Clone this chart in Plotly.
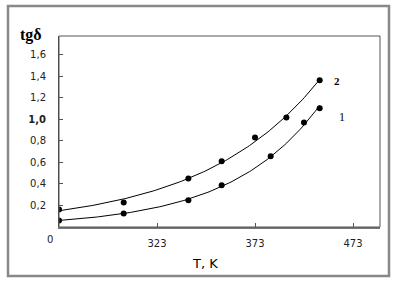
import numpy as np
import plotly.graph_objects as go

# Data
t1 = [273, 306, 339, 356, 381, 398, 406]
tg1 = [0.061, 0.126, 0.247, 0.386, 0.655, 0.97, 1.10]
t2 = [273, 306, 339, 356, 373, 389, 406]
tg2 = [0.163, 0.228, 0.45, 0.61, 0.83, 1.015, 1.36]

x_tickvals = [323, 373, 423]
x_ticktext = ["323", "373", "473"]
y_tickvals = [0.2, 0.4, 0.6, 0.8, 1.0, 1.2, 1.4, 1.6]
y_ticktext = ["0,2", "0,4", "0,6", "0,8", "<b>1,0</b>", "1,2", "1,4", "1,6"]


def expfit(x, y):
    x = np.asarray(x, float)
    y = np.asarray(y, float)
    b, a = np.polyfit(x, np.log(y), 1)
    xs = np.linspace(x.min(), x.max(), 120)
    return xs, np.exp(a) * np.exp(b * xs)


fig = go.Figure()
for tx, ty in ((t1, tg1), (t2, tg2)):
    xs, ys = expfit(tx, ty)
    fig.add_trace(go.Scatter(x=xs, y=ys, mode="lines",
                             line=dict(color="black", width=1), hoverinfo="skip"))
    fig.add_trace(go.Scatter(x=tx, y=ty, mode="markers",
                             marker=dict(color="black", size=6)))

W, H = 397, 282
L, R, T, B = 59, 17, 36, 55
pw, ph = W - L - R, H - T - B

def px(xp):
    return (xp - L) / pw

def py(yp):
    return (H - B - yp) / ph

fig.update_layout(
    width=W, height=H,
    margin=dict(l=L, r=R, t=T, b=B),
    paper_bgcolor="white", plot_bgcolor="white",
    showlegend=False,
    font=dict(family="DejaVu Sans", size=10, color="black"),
    xaxis=dict(range=[273, 273 + pw * 50 / 98], tickvals=x_tickvals, ticktext=x_ticktext,
               ticks="inside", ticklen=4, tickcolor="#555", showgrid=False, zeroline=False,
               showline=True, linecolor="#777", linewidth=2, mirror=False,
               tickfont=dict(size=10, color="#222"), ticklabelstandoff=6),
    yaxis=dict(range=[0, (H - B - T) / 107.85], tickvals=y_tickvals, ticktext=y_ticktext,
               ticks="inside", ticklen=4, tickcolor="#555", showgrid=False, zeroline=False,
               showline=True, linecolor="#444", linewidth=1,
               tickfont=dict(size=10, color="#222"), ticklabelstandoff=10),
)

# plot-area box (top and right edges)
fig.add_shape(type="rect", xref="paper", yref="paper", x0=0, y0=0, x1=1, y1=1,
              line=dict(color="#555", width=1), layer="above")
# outer frame
fig.add_shape(type="rect", xref="paper", yref="paper",
              x0=px(8), x1=px(389), y0=py(276), y1=py(6),
              line=dict(color="#888", width=2.5))

def label(xp, yp, text, **font):
    f = dict(size=10, color="#222")
    f.update(font)
    fig.add_annotation(x=px(xp), y=py(yp), xref="paper", yref="paper", text=text,
                       xanchor="center", yanchor="middle", showarrow=False, font=f)

label(31, 35, "<b>tgδ</b>", family="Liberation Serif", size=16, color="black")
label(50, 239, "0")
label(205, 263, "T, K", size=13, color="black")
label(337, 81, "<b>2</b>", family="Liberation Serif", size=11, color="black")
label(342, 117, "1", family="Liberation Serif", size=12, color="black")

fig.write_html("out.html", config={"displayModeBar": False},
               post_script="document.body.style.margin='0';document.body.style.padding='0';"
                           "document.body.style.overflow='hidden';")
